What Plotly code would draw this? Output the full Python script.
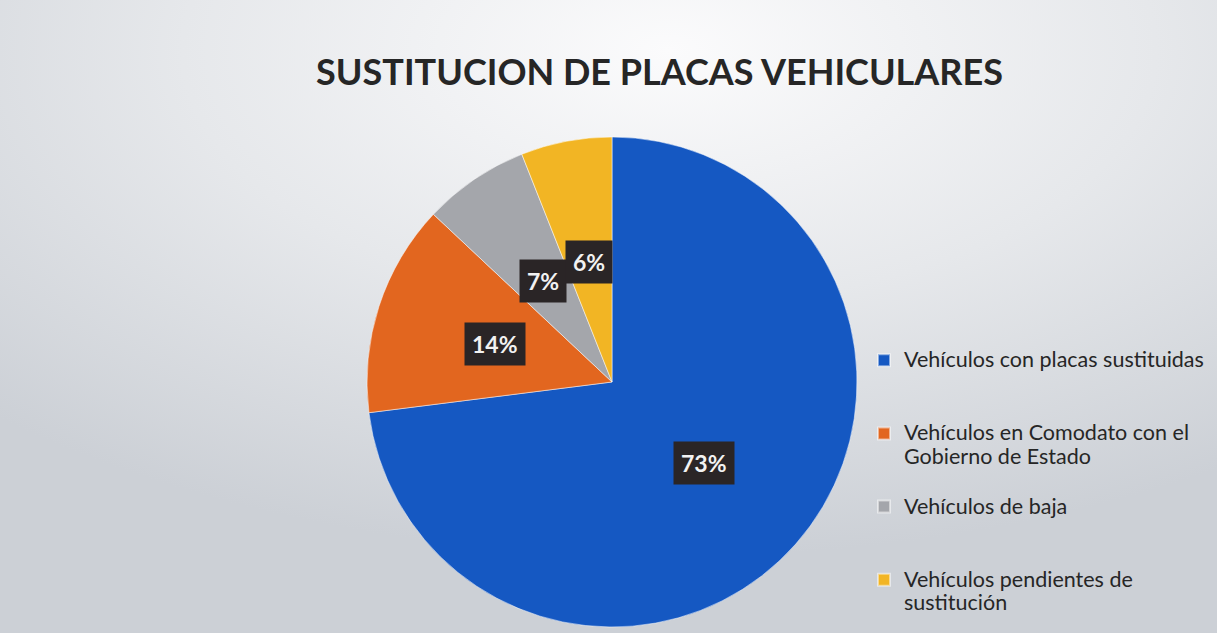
import math
import plotly.graph_objects as go

labels = [
    "Vehículos con placas sustituidas",
    "Vehículos en Comodato con el<br>Gobierno de Estado",
    "Vehículos de baja",
    "Vehículos pendientes de<br>sustitución",
]
values = [73, 14, 7, 6]
colors = ["#1558c2", "#e2661f", "#a4a6ab", "#f2b524"]
title_text = "SUSTITUCION DE PLACAS VEHICULARES"

W, H = 1217, 633
dom_x = [367 / W, 857 / W]
dom_y = [(H - 627) / H, (H - 137) / H]

# legend entries: visible text at 21.5px, each padded to 3 lines of the (smaller) legend font
legend_labels = []
for lab in labels:
    lines = lab.split("<br>")
    lines = lines + ["\u00a0"] * (3 - len(lines))
    legend_labels.append("<br>".join(f"<span style='font-size:21.5px'>{ln}</span>" for ln in lines))

fig = go.Figure(go.Pie(
    labels=legend_labels,
    values=values,
    sort=False,
    direction="clockwise",
    rotation=0,
    marker=dict(colors=colors, line=dict(color="rgba(255,255,255,0.5)", width=1)),
    textinfo="none",
    hoverinfo="percent",
    domain=dict(x=dom_x, y=dom_y),
))

# percent labels with dark boxes, placed at half radius along each slice's mid-angle
cx = (dom_x[0] + dom_x[1]) / 2
cy = (dom_y[0] + dom_y[1]) / 2
r_px = (857 - 367) / 2
total = sum(values)
cum = 0
for v in values:
    mid = (cum + v / 2) / total * 2 * math.pi
    cum += v
    dx = 0.5 * r_px * math.sin(mid)
    dy = 0.5 * r_px * math.cos(mid)
    fig.add_annotation(
        x=cx + dx / W, y=cy + dy / H, xref="paper", yref="paper",
        xanchor="center", yanchor="middle",
        text=f"<b>{round(v / total * 100)}%</b>", showarrow=False,
        font=dict(family="Lato, Open Sans, sans-serif", size=23, color="#f2f2f2"),
        bgcolor="#2a2526", borderpad=7,
    )

bg_svg = (
    "data:image/svg+xml;utf8,"
    "<svg xmlns='http://www.w3.org/2000/svg' width='1217' height='633' preserveAspectRatio='none'>"
    "<defs><radialGradient id='g' cx='0.55' cy='0.08' r='0.8'>"
    "<stop offset='0' stop-color='%23fbfbfc'/>"
    "<stop offset='0.5' stop-color='%23e6e8eb'/>"
    "<stop offset='1' stop-color='%23ccd0d6'/>"
    "</radialGradient></defs>"
    "<rect width='1217' height='633' fill='url(%23g)'/></svg>"
)

fig.update_layout(
    width=W, height=H,
    margin=dict(l=0, r=0, t=0, b=0, autoexpand=False),
    paper_bgcolor="#e4e6ea",
    plot_bgcolor="rgba(0,0,0,0)",
    images=[dict(source=bg_svg, xref="paper", yref="paper", x=0, y=1,
                 sizex=1, sizey=1, xanchor="left", yanchor="top",
                 sizing="stretch", layer="below")],
    title=dict(text=f"<b>{title_text}</b>", x=659.5 / W, xanchor="center",
               y=1 - 72 / H, yanchor="middle",
               font=dict(family="Lato, Open Sans, sans-serif", size=36, color="#262626")),
    legend=dict(x=864 / W, y=(H - 342) / H, xanchor="left", yanchor="top",
                bgcolor="rgba(0,0,0,0)", valign="top", traceorder="normal",
                font=dict(family="Lato, Open Sans, sans-serif", size=18, color="#262626"),
                itemsizing="constant"),
    showlegend=True,
)

fig.write_html("out.html", config={"displayModeBar": False},
               post_script="document.body.style.margin='0';")
